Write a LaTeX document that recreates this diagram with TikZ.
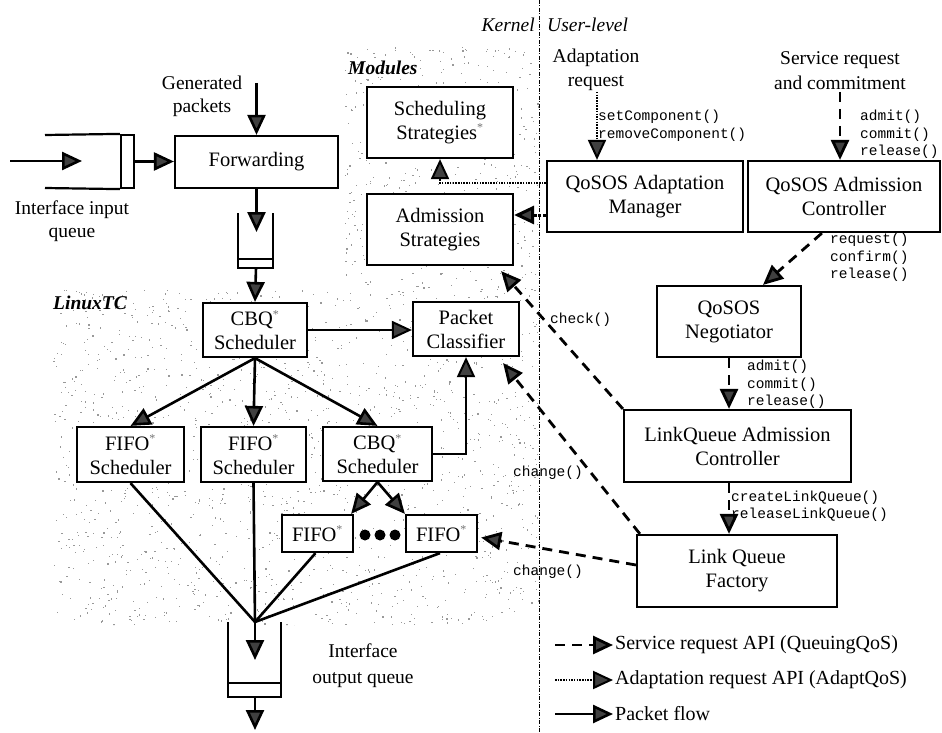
\documentclass[tikz,border=0pt]{standalone}
\usepackage{fontspec}
\setmainfont{Liberation Serif}
\setmonofont{Liberation Mono}
\usetikzlibrary{arrows.meta,calc}

\newcommand\bxf{\fontsize{20.5}{24}\selectfont}
\newcommand\lbf{\fontsize{19.5}{23}\selectfont}
\newcommand\apif{\fontsize{14.5}{17.5}\selectfont\ttfamily}
\newcommand\starsup{\textsuperscript{\color{black!55}\fontsize{12}{12}\selectfont *}}

\begin{document}
\begin{tikzpicture}[x=1pt,y=-1pt,
  box/.style={draw, fill=white, line width=2.2pt, inner sep=0pt, align=center, font=\bxf},
  tip/.style={-{Triangle[length=20pt 0,width=18pt 0,fill=black!75]}},
  flow/.style={line width=2.6pt, tip},
  thinflow/.style={line width=2pt, tip},
  svc/.style={line width=2.8pt, tip, dash pattern=on 10pt off 7pt},
  adp/.style={line width=2pt, tip, dash pattern=on 1.5pt off 1.2pt},
  adpthick/.style={line width=3pt, tip, dash pattern=on 3pt off 1.5pt},
  api/.style={font=\apif, anchor=west, align=left, inner sep=0pt},
  lbl/.style={font=\lbf, align=center, inner sep=0pt},
  queue/.style={line width=2.2pt}
]
\useasboundingbox (0,0) rectangle (942,733);

% stippled kernel area (Modules and LinuxTC)
\begin{scope}
  \clip (53,290) -- (345,290) -- (345,47) -- (539,47) -- (539,625) -- (53,625) -- cycle;
  \pgfmathsetseed{4242}
  \foreach \i in {1,...,2700} {
    \pgfmathsetmacro\dx{53+486*rnd}
    \pgfmathsetmacro\dy{47+578*rnd}
    \fill[black!40] (\dx,\dy) rectangle ++(1.2,1.2);
  }
\end{scope}

% kernel / user-level separator
\draw[line width=0.8pt, dash pattern=on 4pt off 1.5pt on 1pt off 1.5pt] (539,0) -- (539,733);
\node[font=\lbf\itshape, anchor=east, inner sep=0pt] (kern) at (535,25) {Kernel};
\node[font=\lbf\itshape, anchor=west, inner sep=0pt] (user) at (547,25) {User-level};
\node[font=\lbf\bfseries\itshape, anchor=west, inner sep=0pt] (modl) at (348,68) {Modules};
\node[font=\lbf\bfseries\itshape, anchor=west, inner sep=0pt] (ltc) at (53,303) {LinuxTC};

% boxes
\node[box, minimum width=163pt, minimum height=52pt] (fwd) at (256.5,162) {Forwarding};
\node[box, minimum width=146pt, minimum height=71pt] (ss) at (440,122.5) {Scheduling\\Strategies\starsup};
\node[box, minimum width=146pt, minimum height=71pt] (as) at (440,229.5) {Admission\\Strategies};
\node[box, minimum width=196pt, minimum height=71pt] (am) at (645,196.5) {QoSOS Adaptation\\Manager};
\node[box, minimum width=192pt, minimum height=71pt] (ac) at (844,196.5) {QoSOS Admission\\Controller};
\node[box, minimum width=144pt, minimum height=71pt] (neg) at (729,321.5) {QoSOS\\Negotiator};
\node[box, minimum width=227pt, minimum height=72pt] (lq) at (737.5,446) {LinkQueue Admission\\Controller};
\node[box, minimum width=200pt, minimum height=72pt] (lqf) at (737,571) {Link Queue\\Factory};
\node[box, minimum width=104pt, minimum height=54pt] (cbq) at (255,330) {CBQ\starsup\\Scheduler};
\node[box, minimum width=106pt, minimum height=54pt] (pc) at (466,329) {Packet\\Classifier};
\node[box, minimum width=107pt, minimum height=55pt] (f1) at (130.5,454.5) {FIFO\starsup\\Scheduler};
\node[box, minimum width=105pt, minimum height=55pt] (f2) at (253.5,454.5) {FIFO\starsup\\Scheduler};
\node[box, minimum width=109pt, minimum height=54pt] (cbq2) at (377.5,454) {CBQ\starsup\\Scheduler};
\node[box, minimum width=71pt, minimum height=37pt] (fa) at (317.5,533.5) {FIFO\starsup};
\node[box, minimum width=71pt, minimum height=37pt] (fb) at (441.5,533.5) {FIFO\starsup};

% ellipsis between the FIFO queues
\fill (365,535) circle[radius=5.5] (380,535) circle[radius=5.5] (395,535) circle[radius=5.5];

% interface input queue
\node[draw, line width=2.2pt, minimum width=13pt, minimum height=53pt, inner sep=0pt] (iqe) at (127.5,161.5) {};
\coordinate (iqt) at (45,135);
\coordinate (iqb) at (45,188);
\draw[queue] (iqt) -- (iqe.north west);
\draw[queue] (iqb) -- (iqe.south west);
\coordinate (inS) at (10,161);
\coordinate (inE) at (82,161);
\draw[flow] (inS) -- (inE);
\draw[flow] (iqe.east) -- (iqe.east -| fwd.west);
\node[lbl] (iqlbl) at (72,221) {Interface input\\queue};

% generated packets
\node[lbl] (gen) at (202,96) {Generated\\packets};
\coordinate (genTop) at (256.5,83);
\draw[flow] (genTop) -- (fwd.north);

% queue below forwarding
\coordinate (q1in) at (256.5,232);
\coordinate (q1b) at (256,268);
\draw[queue] (238,213) -- (238,268) -- (273,268) -- (273,213);
\draw[queue] (238,259) -- (273,259);
\draw[flow] (fwd.south) -- (q1in);
\draw[flow] (q1b) -- (cbq.north);

% LinuxTC scheduling tree
\draw[thinflow] (cbq.east) -- (cbq.east -| pc.west);
\draw[flow] (cbq.south) -- (f1.north);
\draw[flow] (cbq.south) -- (f2.north);
\draw[flow] (cbq.south) -- (cbq2.north);
\draw[thinflow] (cbq2.east) -| (pc.south);
\draw[flow] (cbq2.south) -- ($(fa.north east)+(-3,0)$);
\draw[flow] (cbq2.south) -- (fb.north west);

% merge into output queue
\coordinate (merge) at (255,622);
\draw[line width=2.6pt] (f1.south) -- (merge);
\draw[line width=2.6pt] (f2.south) -- (merge);
\draw[line width=2.6pt] ($(fa.south)+(-2,0)$) -- (merge);
\draw[line width=2.6pt] ($(fb.south)+(-1.5,0)$) -- (merge);

% interface output queue
\draw[queue] (228,622) -- (228,697) -- (281,697) -- (281,622);
\draw[queue] (228,683) -- (281,683);
\coordinate (oqin) at (255,660);
\coordinate (oqb) at (255,697);
\coordinate (oqout) at (255,730);
\draw[flow] (merge) -- (oqin);
\draw[flow] (oqb) -- (oqout);
\node[lbl, font=\fontsize{19.5}{26}\selectfont] (oqlbl) at (363,666) {Interface\\output queue};

% user-level requests
\node[lbl, font=\fontsize{19.5}{24}\selectfont] (adreq) at (596,70) {Adaptation\\request};
\node[lbl, font=\fontsize{19.5}{25}\selectfont] (svreq) at (840,70.5) {Service request\\and commitment};
\coordinate (adTop) at (597,92);
\coordinate (svTop) at (840,92);
\draw[adp] (adTop) -- (adTop |- am.north);
\draw[svc] (svTop) -- (svTop |- ac.north);
\node[api] (lbSet) at (598,126) {setComponent()\\removeComponent()};
\node[api] (lbAdm1) at (860,134.5) {admit()\\commit()\\release()};

% adaptation manager towards the modules
\coordinate (sskink) at (440,183);
\coordinate (amasy) at (0,215);
\draw[adp] (am.west |- sskink) -- (sskink) -- (ss.south);
\draw[adpthick] (am.west |- amasy) -- (as.east |- amasy);

% admission chain
\draw[svc] ($(ac.south west)+(75,0)$) -- ($(neg.north)+(34,0)$);
\node[api] (lbReq) at (830,257.5) {request()\\confirm()\\release()};
\draw[svc] (neg.south) -- (neg.south |- lq.north);
\node[api] (lbAdm2) at (747,384.5) {admit()\\commit()\\release()};
\draw[svc] (neg.south |- lq.south) -- (neg.south |- lqf.north);
\node[api] (lbCreate) at (731,506) {createLinkQueue()\\releaseLinkQueue()};

% calls back into the kernel
\draw[svc] (lq.north west) -- ($(as.south east)+(-13,5)$);
\node[api] (lbCheck) at (550,320) {check()};
\draw[svc] ($(lqf.north west)+(4,0)$) -- ($(pc.south east)+(-17,6)$);
\node[font=\apif, inner sep=0pt] (lbCh1) at (548,473) {change()};
\draw[svc] ($(lqf.west)+(0,-6)$) -- ($(fb.east)+(3,4)$);
\node[font=\apif, inner sep=0pt] (lbCh2) at (548,572) {change()};

% legend
\coordinate (lg1s) at (555,645); \coordinate (lg1e) at (613,645);
\coordinate (lg2s) at (555,680); \coordinate (lg2e) at (613,680);
\coordinate (lg3s) at (555,714); \coordinate (lg3e) at (613,714);
\draw[svc] (lg1s) -- (lg1e);
\draw[adp] (lg2s) -- (lg2e);
\draw[flow] (lg3s) -- (lg3e);
\node[font=\fontsize{20}{24}\selectfont, anchor=west, inner sep=0pt] (lgt1) at (615,645) {Service request API (QueuingQoS)};
\node[font=\fontsize{20}{24}\selectfont, anchor=west, inner sep=0pt] (lgt2) at (615,680) {Adaptation request API (AdaptQoS)};
\node[font=\fontsize{20}{24}\selectfont, anchor=west, inner sep=0pt] (lgt3) at (615,714) {Packet flow};
\end{tikzpicture}
\end{document}
